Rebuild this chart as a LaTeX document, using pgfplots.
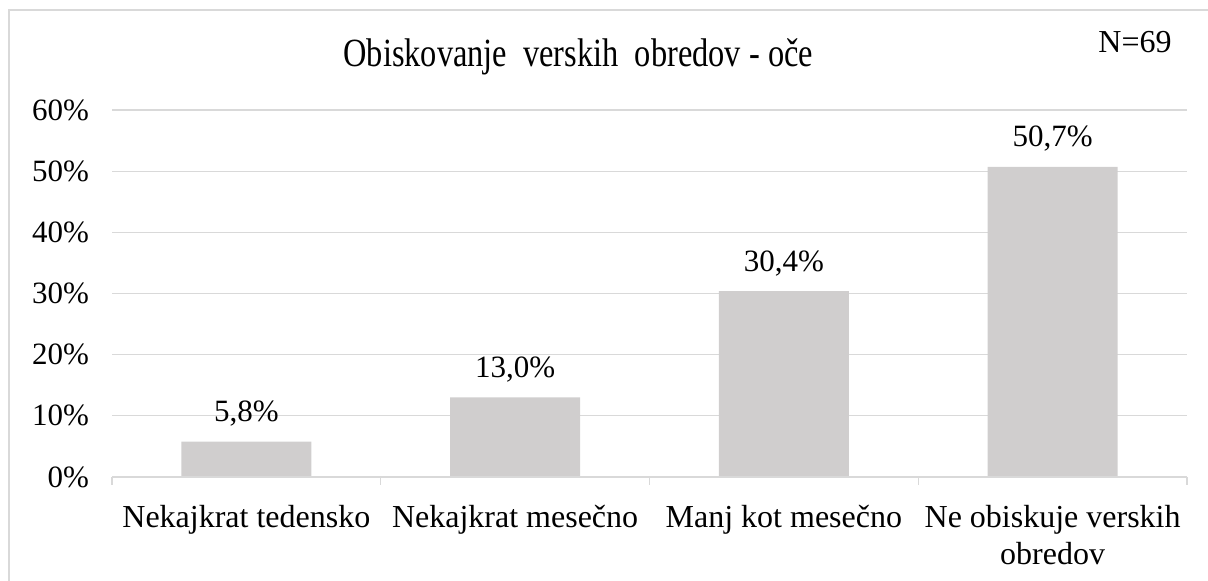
\documentclass[border=0pt]{standalone}
\usepackage{pgfplots}
\pgfplotsset{compat=1.18}
\usepackage{fontspec}
\setmainfont{Liberation Serif}
\newfontfamily\titlefont[FakeStretch=0.81]{Liberation Serif}
\definecolor{barc}{HTML}{D0CECE}
\definecolor{gridc}{HTML}{D9D9D9}
\begin{document}
\begin{tikzpicture}
\useasboundingbox (0,0) rectangle (604pt,290.5pt);
\draw[gridc, line width=0.6pt] (4.5pt,-5pt) -- (4.5pt,285.5pt) -- (620pt,285.5pt);
\begin{axis}[
  at={(56pt,52pt)}, anchor=south west,
  scale only axis, width=537.5pt, height=183.5pt,
  xmin=-0.5, xmax=3.5, ymin=0, ymax=60,
  axis line style={draw=none},
  ybar, bar width=65pt,
  /pgf/number format/assume math mode=true,
  ytick={0,10,20,30,40,50,60},
  yticklabels={0\%,10\%,20\%,30\%,40\%,50\%,60\%},
  yticklabel style={font=\fontsize{15.5}{18}\selectfont, xshift=-8pt},
  ymajorgrids, grid style={gridc, line width=0.6pt},
  major tick length=0pt,
  tick pos=left,
  xtick={0,1,2,3},
  xticklabels={{Nekajkrat tedensko},{Nekajkrat mesečno},{Manj kot mesečno},{Ne obiskuje verskih\\[-1.5pt]obredov}},
  xticklabel style={font=\fontsize{16}{20}\selectfont, align=center, yshift=-10.5pt},
  minor xtick={-0.5,0.5,1.5,2.5,3.5},
  minor tick length=4pt, tick align=outside,
  minor tick style={gridc, line width=0.6pt},
  xminorgrids=false,
  nodes near coords={\pgfmathprintnumber[fixed, fixed zerofill, precision=1, use comma, assume math mode=true]{\pgfplotspointmeta}\%},
  every node near coord/.append style={font=\fontsize{15.5}{18}\selectfont, anchor=base, yshift=10pt, text=black},
]
\addplot[fill=barc, draw=none] coordinates {(0,5.8) (1,13.0) (2,30.4) (3,50.7)};
\draw[gridc, line width=0.6pt] (axis cs:-0.5,0) -- (axis cs:3.5,0);
\end{axis}
\node[anchor=base west, inner sep=0, font=\titlefont\fontsize{20}{24}\selectfont] at (171.5pt,257pt) {Obiskovanje\ \ verskih\ \ obredov - oče};
\node[anchor=base east, inner sep=0, font=\fontsize{16}{19}\selectfont] at (586pt,264pt) {N=69};
\end{tikzpicture}
\end{document}
